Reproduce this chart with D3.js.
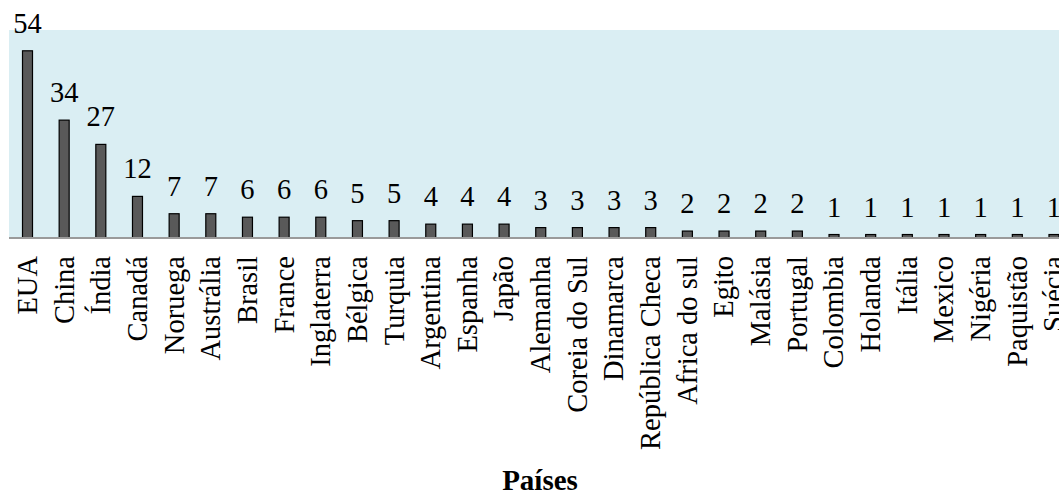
<!DOCTYPE html>
<html><head><meta charset="utf-8">
<script src="https://cdn.jsdelivr.net/npm/d3@7"></script>
<style>body{margin:0;background:#fff}svg{display:block}text{font-family:"Liberation Serif","Times New Roman",Times,serif}</style>
</head><body>
<svg id="c" width="1059" height="495"></svg>
<script>
const categories = ["EUA","China","Índia","Canadá","Noruega","Austrália","Brasil","France","Inglaterra","Bélgica","Turquia","Argentina","Espanha","Japão","Alemanha","Coreia do Sul","Dinamarca","República Checa","Africa do sul","Egito","Malásia","Portugal","Colombia","Holanda","Itália","Mexico","Nigéria","Paquistão","Suécia"];
const values = [54,34,27,12,7,7,6,6,6,5,5,4,4,4,3,3,3,3,2,2,2,2,1,1,1,1,1,1,1];
const xTitle = "Países";

(function(){
const svg = d3.select("#c");
const pl = 9, pt = 30, base = 238;
const step = 36.66;
const pIn = 1 - 10/step, pOut = 13.5/step;
const pr = pl + step*(categories.length - pIn + 2*pOut);

const x = d3.scaleBand().domain(categories).range([pl, pr]).paddingInner(pIn).paddingOuter(pOut);
const y = d3.scaleLinear().domain([0, 60]).range([base, pt]);

svg.append("rect").attr("x", pl).attr("y", pt).attr("width", pr-pl).attr("height", base-pt).attr("fill", "#daeef3");

svg.selectAll("rect.bar").data(values).join("rect").attr("class","bar")
  .attr("x", (d,i)=>x(categories[i])).attr("width", x.bandwidth())
  .attr("y", d=>y(d)).attr("height", d=>base-y(d))
  .attr("fill", "#595959").attr("stroke", "#000").attr("stroke-width", 1.2);

svg.append("line").attr("x1", pl).attr("x2", pr).attr("y1", base).attr("y2", base)
  .attr("stroke", "#9a9a9a").attr("stroke-width", 2);

svg.selectAll("text.val").data(values).join("text").attr("class","val")
  .attr("x", (d,i)=>x(categories[i]) + x.bandwidth()/2).attr("y", d=>y(d) - 18)
  .attr("text-anchor","middle").style("font-size", "28.5px").attr("fill","#000")
  .text(d=>d);

const xAxis = d3.axisBottom(x).tickSize(0).tickPadding(0);
const gx = svg.append("g").attr("transform", `translate(0,${base})`).call(xAxis);
gx.attr("font-family", null).attr("font-size", null);
gx.select(".domain").remove();
gx.selectAll("text")
  .style("font-size", "28.5px").attr("fill", "#000")
  .attr("text-anchor", "end").attr("transform", "rotate(-90)")
  .attr("x", -18).attr("y", 0).attr("dy", "0.33em");

svg.append("text").attr("x", 540).attr("y", 490).attr("text-anchor","middle")
  .style("font-size", "29px").attr("font-weight","bold").text(xTitle);
})();
</script>
</body></html>
